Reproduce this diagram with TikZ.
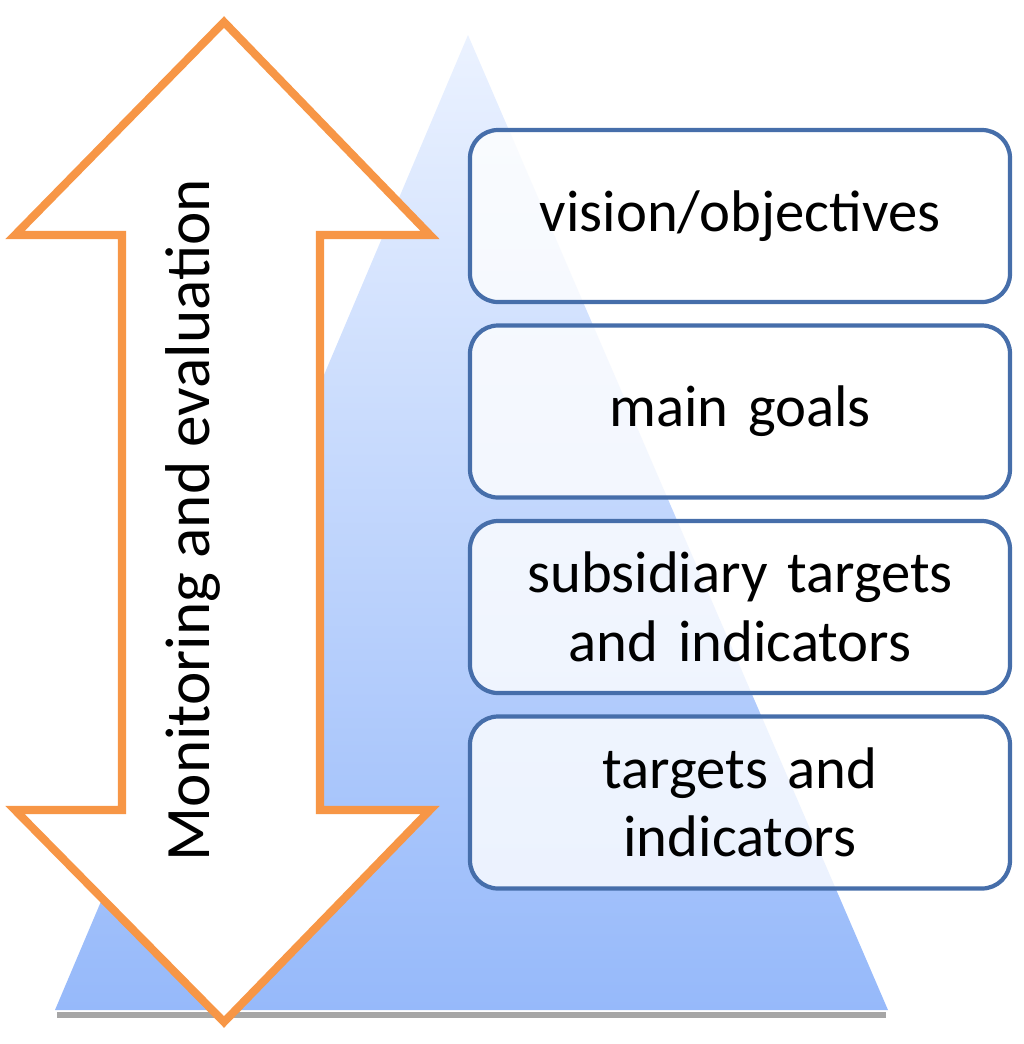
\documentclass[tikz,border=0pt]{standalone}
\usepackage{fontspec}
\setmainfont{Carlito}
\usetikzlibrary{shapes, arrows}
\definecolor{boxline}{RGB}{70,110,170}
\definecolor{arrline}{RGB}{247,150,70}
\definecolor{pyrtop}{RGB}{235,242,255}
\definecolor{pyrbot}{RGB}{150,185,250}
\tikzstyle{level} = [rectangle, draw=boxline, line width=1.2pt, fill=white, fill opacity=0.8, text opacity=1, rounded corners=0.28cm, minimum width=5.4cm, minimum height=1.72cm, text width=5cm, align=center, font=\fontsize{16.7}{19.5}\selectfont]

\begin{document}
\begin{tikzpicture}[node distance=1.955cm]
\useasboundingbox (0,0) rectangle (10.24,-10.44);

% piramide ao fundo
\shade[top color=pyrtop, bottom color=pyrbot] (4.68,-0.35) -- (8.88,-10.10) -- (0.55,-10.10) -- cycle;
\draw[gray!70, line width=1.5pt] (0.57,-10.15) -- (8.86,-10.15);

% caixas dos niveis
\node [level] at (7.40,-2.16) (visao) {vision/objectives};
\node [level, below of=visao] (metas) {main goals};
\node [level, below of=metas] (sub) {subsidiary targets\\and indicators};
\node [level, below of=sub] (alvos) {targets and\\indicators};

% seta dupla
\draw[arrline, line width=2.3pt, fill=white, line join=miter]
  (2.24,-0.22) -- (4.30,-2.35) -- (3.20,-2.35) -- (3.20,-8.10) -- (4.30,-8.10)
  -- (2.24,-10.22) -- (0.15,-8.10) -- (1.22,-8.10) -- (1.22,-2.35) -- (0.15,-2.35) -- cycle;
\node[rotate=90, font=\fontsize{18}{21}\selectfont] at (1.93,-5.20) (monit) {Monitoring and evaluation};

\end{tikzpicture}
\end{document}
